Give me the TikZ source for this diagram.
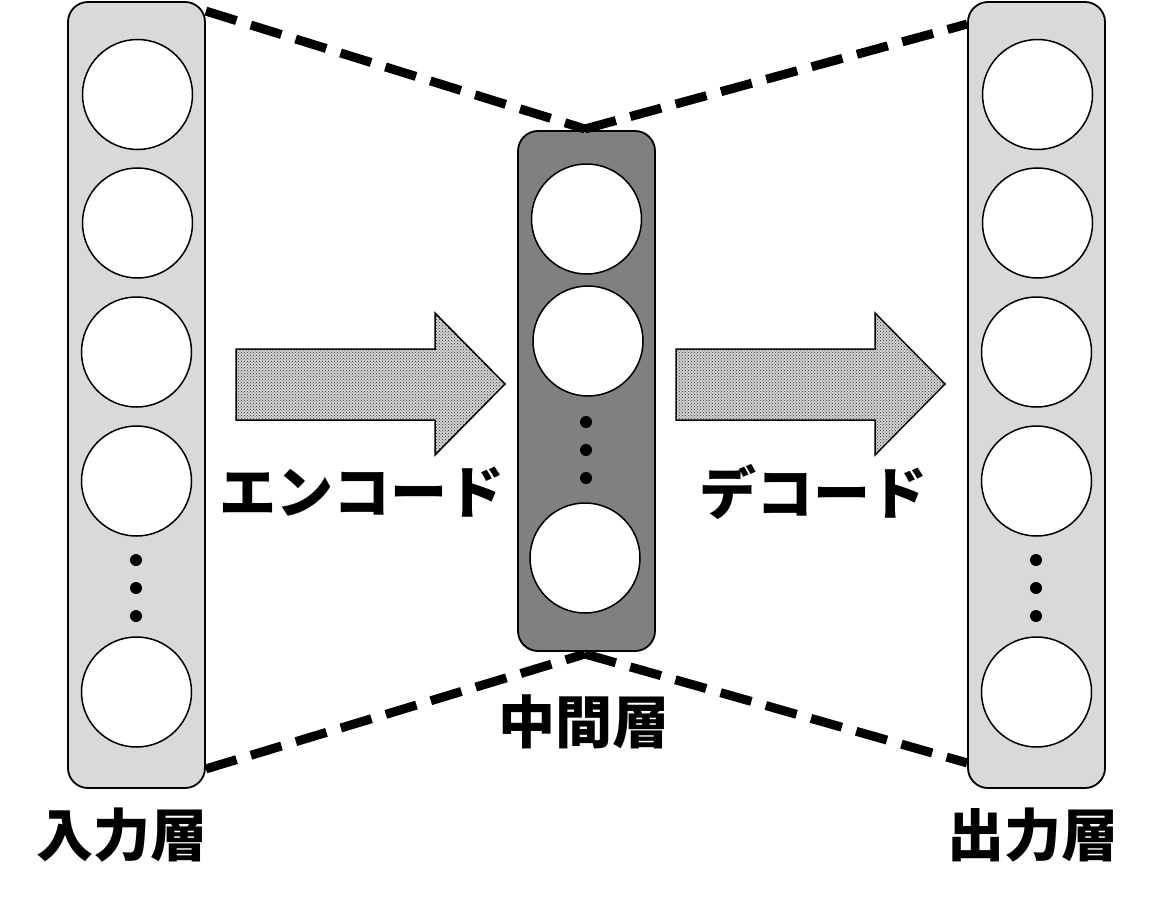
\documentclass[tikz,border=0pt]{standalone}
\usepackage{fontspec}
\newfontfamily\cjk{Noto Sans CJK JP}
\usetikzlibrary{patterns}
\definecolor{lightcol}{HTML}{D9D9D9}
\definecolor{midcol}{HTML}{808080}
\begin{document}
\begin{tikzpicture}[x=1pt,y=-1pt,
  layerbox/.style={draw=black,line width=1.8pt,rounded corners=20pt},
  neuron/.style={circle,draw=black,fill=white,line width=1.5pt,minimum size=110pt,inner sep=0pt},
  dotn/.style={circle,fill=black,minimum size=12pt,inner sep=0pt},
  link/.style={line width=9pt,dash pattern=on 32pt off 15pt},
  bigarrow/.style={draw=black,line width=1.5pt,fill=gray!35,postaction={pattern=crosshatch dots,pattern color=black!80}},
  lab/.style={font=\cjk\bfseries\fontsize{57}{60}\selectfont,inner sep=0pt}
]
\useasboundingbox (0,0) rectangle (1158,912);
% layer boxes
\node[layerbox,fill=lightcol,minimum width=137pt,minimum height=786pt,inner sep=0pt] (inbox) at (136.5,395) {};
\node[layerbox,fill=midcol,minimum width=137pt,minimum height=520pt,inner sep=0pt] (midbox) at (586.5,391) {};
\node[layerbox,fill=lightcol,minimum width=137pt,minimum height=786pt,inner sep=0pt] (outbox) at (1036.5,395) {};
% input neurons
\node[neuron] (i1) at (137.5,94.5) {};
\node[neuron] (i2) at (137.5,223) {};
\node[neuron] (i3) at (136.5,352) {};
\node[neuron] (i4) at (136.5,481) {};
\node[neuron] (i5) at (136.5,692) {};
\node[dotn] (id1) at (136,560) {};
\node[dotn] (id2) at (136,588) {};
\node[dotn] (id3) at (136,616) {};
% middle neurons
\node[neuron] (m1) at (586.5,219) {};
\node[neuron] (m2) at (588,341) {};
\node[neuron] (m3) at (585,558) {};
\node[dotn] (md1) at (586,422) {};
\node[dotn] (md2) at (586,450) {};
\node[dotn] (md3) at (586,478) {};
% output neurons
\node[neuron] (o1) at (1037.5,94.5) {};
\node[neuron] (o2) at (1037.5,223) {};
\node[neuron] (o3) at (1036.5,352) {};
\node[neuron] (o4) at (1036.5,481) {};
\node[neuron] (o5) at (1036.5,692) {};
\node[dotn] (od1) at (1036,560) {};
\node[dotn] (od2) at (1036,588) {};
\node[dotn] (od3) at (1036,616) {};
% dashed links
\coordinate (midtop) at (585,129);
\coordinate (midbot) at (585,654);
\draw[link] ([yshift=-10pt]inbox.north east) -- (midtop);
\draw[link] (midtop) -- ([yshift=-23pt]outbox.north west);
\draw[link] ([yshift=20pt]inbox.south east) -- (midbot);
\draw[link] (midbot) -- ([yshift=26pt]outbox.south west);
% arrows
\draw[bigarrow] (236,349) -- (435,349) -- (435,313) -- (505,384) -- (435,455) -- (435,420) -- (236,420) -- cycle;
\draw[bigarrow] (676,349) -- (875,349) -- (875,313) -- (945,384) -- (875,455) -- (875,420) -- (676,420) -- cycle;
% labels
\node[lab] (enc) at (362,492) {エンコード};
\node[lab] (dec) at (813,492) {デコード};
\node[lab] (midlab) at (584,722) {中間層};
\node[lab] (inlab) at (122,835) {入力層};
\node[lab] (outlab) at (1033,835) {出力層};
\end{tikzpicture}
\end{document}
